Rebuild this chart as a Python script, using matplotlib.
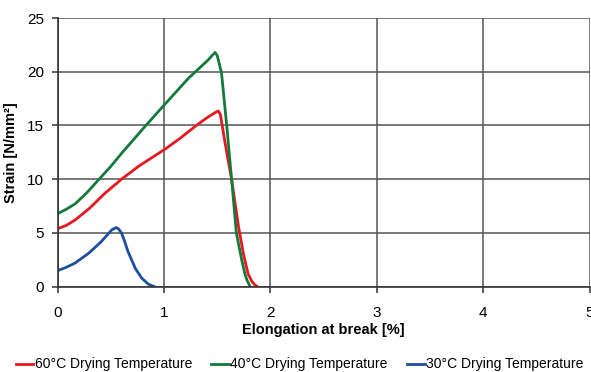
import matplotlib.pyplot as plt

plt.rcParams['font.family'] = ['Liberation Sans', 'DejaVu Sans']

# elongation [%] / strain [N/mm2]
x_60 = [0.0, 0.08, 0.163, 0.3, 0.445, 0.6, 0.76, 0.9, 1.01, 1.15, 1.29, 1.4, 1.48, 1.51, 1.53,
        1.57, 1.6, 1.635, 1.67, 1.70, 1.745, 1.79, 1.825, 1.855, 1.88]
y_60 = [5.4, 5.7, 6.2, 7.3, 8.7, 10.0, 11.2, 12.1, 12.8, 13.8, 14.9, 15.7, 16.2, 16.35, 16.0,
        13.6, 11.9, 10.0, 7.6, 5.6, 3.1, 1.2, 0.5, 0.15, 0.0]

x_40 = [0.0, 0.08, 0.163, 0.27, 0.38, 0.5, 0.6, 0.82, 1.01, 1.23, 1.415, 1.46, 1.48, 1.50, 1.54,
        1.59, 1.635, 1.68, 1.73, 1.76, 1.78, 1.81]
y_40 = [6.8, 7.2, 7.7, 8.7, 9.9, 11.2, 12.4, 14.9, 17.0, 19.4, 21.1, 21.6, 21.8, 21.5, 19.9,
        14.9, 10.0, 5.0, 2.5, 1.2, 0.6, 0.0]

x_30 = [0.0, 0.08, 0.163, 0.29, 0.41, 0.51, 0.55, 0.57, 0.60, 0.63, 0.66, 0.73, 0.79, 0.85, 0.91]
y_30 = [1.5, 1.8, 2.2, 3.1, 4.2, 5.3, 5.5, 5.4, 5.0, 4.2, 3.3, 1.7, 0.8, 0.25, 0.0]

labels = ['60°C Drying Temperature', '40°C Drying Temperature', '30°C Drying Temperature']
colors = ['#e8161e', '#137a3c', '#1f4e9e']

fig = plt.figure(figsize=(5.91, 3.72), dpi=100)
ax = fig.add_axes([0.0976, 0.2293, 0.8999, 0.7223])

for xs, ys, lab, c in zip([x_60, x_40, x_30], [y_60, y_40, y_30], labels, colors):
    ax.plot(xs, ys, color=c, lw=2.0, label=lab, solid_joinstyle='round')

ax.set_xlim(0, 5)
ax.set_ylim(0, 25)
ax.set_xticks(range(0, 6))
ax.set_yticks(range(0, 26, 5))
ax.grid(True, color='#555555', lw=1.1)
ax.set_axisbelow(True)
for s in ['top', 'right']:
    ax.spines[s].set_visible(False)
for s in ['left', 'bottom']:
    ax.spines[s].set_color('#333333')
    ax.spines[s].set_linewidth(1.2)
ax.tick_params(axis='both', labelsize=11, length=4, width=1.1, color='#333333', pad=6)
ax.tick_params(axis='x', pad=10)

ax.set_xlabel('Elongation at break [%]', fontsize=10.5, fontweight='bold', labelpad=2)
ax.set_ylabel('Strain [N/mm²]', fontsize=10.5, fontweight='bold', labelpad=6)

fig.legend(loc='lower center', bbox_to_anchor=(0.507, -0.032), ncol=3, frameon=False,
           fontsize=10, handlelength=1.25, handletextpad=0.12, columnspacing=1.4)

fig.savefig('out.png', dpi=100)
